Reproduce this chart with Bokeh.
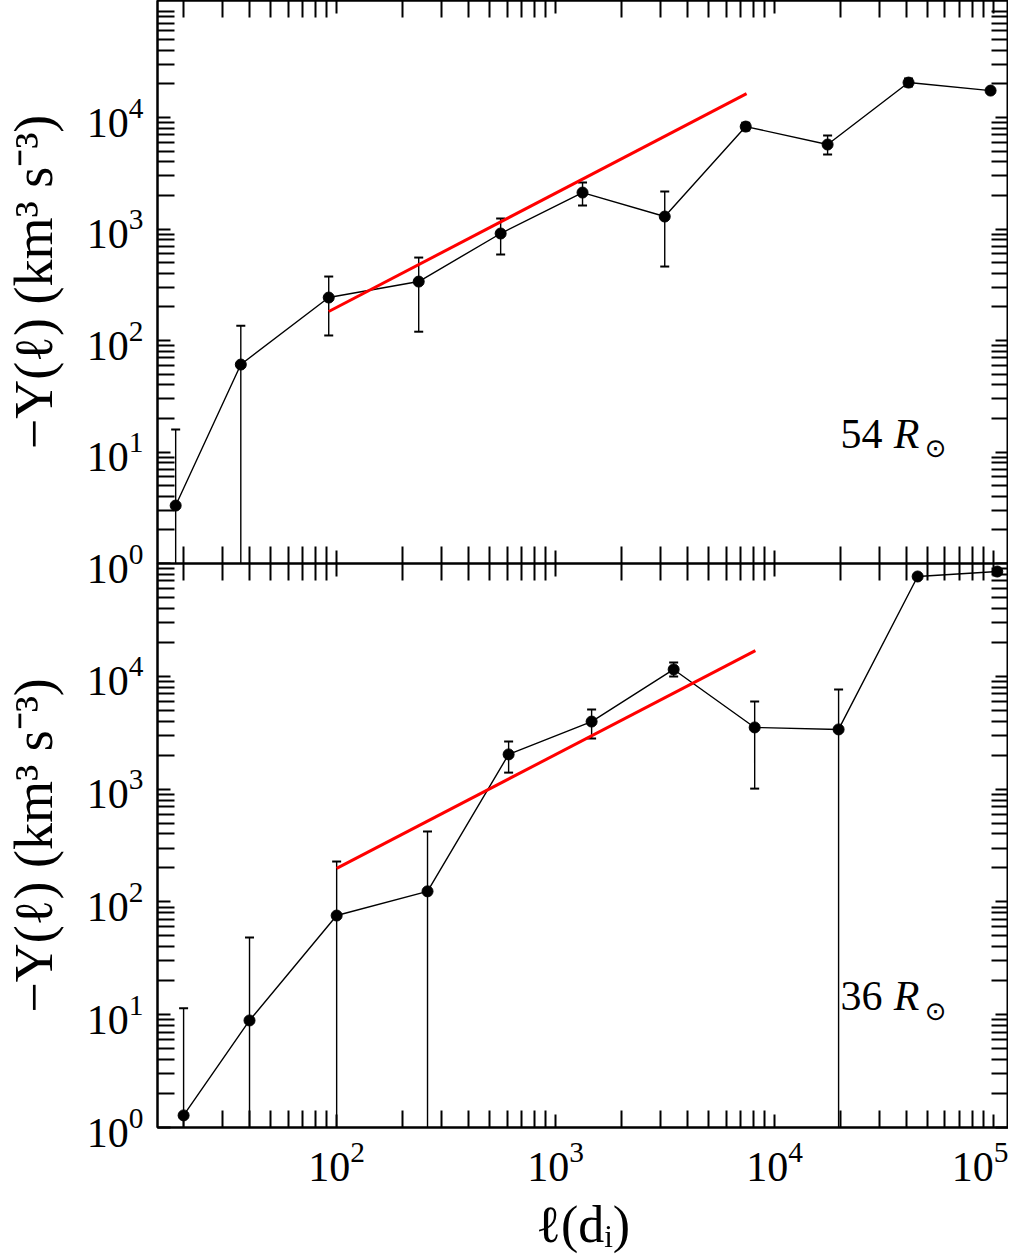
from bokeh.plotting import figure
from bokeh.models import FixedTicker, Label, Range1d, LogAxis
from bokeh.layouts import column
from bokeh.embed import file_html
from bokeh.resources import INLINE

# ---------------- data ----------------
# Panel 1: 54 R_sun
ell_54 = [18.4, 36.5, 92, 237, 561, 1327, 3150, 7380, 17460, 40900, 96900]
Y_54 = [3.31, 60.9, 243, 338, 912, 2125, 1295, 8300, 5730, 20600, 17460]
Y_54_hi = [15.9, 136, 375, 555, 1242, 2610, 2170, 9000, 6900, 22350, 18100]
Y_54_lo = [None, None, 111, 120, 591, 1625, 461, 7650, 4660, 19000, 16800]
fit_ell_54 = [92, 7450]
fit_Y_54 = [182, 16400]

# Panel 2: 36 R_sun
ell_36 = [20, 40, 100, 260, 610, 1460, 3460, 8110, 19600, 45000, 104000]
Y_36 = [1.28, 8.89, 75.7, 124, 2030, 3970, 11500, 3520, 3380, 76700, 84900]
Y_36_hi = [11.4, 48.3, 228, 421, 2640, 5080, 13250, 5980, 7640, 78500, 86500]
Y_36_lo = [None, None, None, None, 1400, 2810, 9980, 1010, None, 75000, 83300]
fit_ell_36 = [100, 8170]
fit_Y_36 = [198, 16900]

panel_labels = ["54", "36"]

x_major = [10, 100, 1000, 10000, 100000]
x_major_labels = ["10¹", "10²", "10³", "10⁴", "10⁵"]
y_major = [1, 10, 100, 1000, 10000]
y_major_labels = ["10⁰", "10¹", "10²", "10³", "10⁴"]

x_label = "ℓ(dᵢ)"
y_label = "−Y(ℓ) (km³ s⁻³)"

# ---------------- styling ----------------
FONT = "Liberation Serif"
X_RANGE = (15.2, 1.17e5)
minor = [m * 10 ** k for k in range(0, 6) for m in range(2, 10)]
FLOOR = 1e-3  # lower error bars crossing zero run off the bottom
OVERLAP = 32


def style_axis(ax, ticks, labels=None):
    ax.ticker = FixedTicker(ticks=ticks, minor_ticks=minor)
    ax.major_tick_in = 13
    ax.major_tick_out = 0
    ax.minor_tick_in = 17
    ax.minor_tick_out = 0
    ax.major_tick_line_width = 2
    ax.minor_tick_line_width = 2
    ax.major_tick_line_color = "black"
    ax.minor_tick_line_color = "black"
    ax.axis_line_width = 2
    ax.axis_line_color = "black"
    if labels:
        ax.major_label_overrides = {str(t): s for t, s in zip(ticks, labels)}
        ax.major_label_text_font = FONT
        ax.major_label_text_font_size = "42px"
        ax.major_label_text_color = "black"
    else:
        ax.major_label_text_font_size = "1px"
        ax.major_label_text_alpha = 0
        ax.major_label_standoff = 0


def make_panel(ell, Y, hi, lo, fit_ell, fit_Y, tag, y_end, frame_h,
               bottom_labels, min_bottom, **kw):
    p = figure(x_axis_type="log", y_axis_type="log",
               x_range=Range1d(*X_RANGE), y_range=Range1d(1, y_end),
               frame_width=851, frame_height=frame_h,
               output_backend="svg", toolbar_location=None,
               min_border_left=157, min_border_right=0,
               min_border_top=0, min_border_bottom=min_bottom,
               background_fill_color="white", border_fill_color=None, **kw)
    p.xgrid.visible = False
    p.ygrid.visible = False
    p.outline_line_color = "black"
    p.outline_line_width = 2

    # left y axis with labels
    yax = p.yaxis[0]
    style_axis(yax, y_major, y_major_labels)
    yax.major_label_standoff = 14
    yax.axis_label = y_label
    yax.axis_label_text_font = FONT
    yax.axis_label_text_font_size = "54px"
    yax.axis_label_text_font_style = "normal"
    yax.axis_label_text_color = "black"
    yax.axis_label_standoff = 20

    # bottom x axis
    xax = p.xaxis[0]
    if bottom_labels:
        style_axis(xax, x_major, x_major_labels)
        xax.major_label_standoff = 15
        xax.axis_label = x_label
        xax.axis_label_text_font = FONT
        xax.axis_label_text_font_size = "52px"
        xax.axis_label_text_font_style = "normal"
        xax.axis_label_text_color = "black"
        xax.axis_label_standoff = 12
    else:
        style_axis(xax, x_major)

    # mirrored ticks on top and right
    top_ax = LogAxis()
    style_axis(top_ax, x_major)
    p.add_layout(top_ax, "above")
    right_ax = LogAxis()
    style_axis(right_ax, y_major)
    p.add_layout(right_ax, "right")

    # error bars
    lo_draw = [v if v is not None else FLOOR for v in lo]
    p.segment(x0=ell, y0=lo_draw, x1=ell, y1=hi, line_color="black", line_width=1.4)
    p.scatter(x=ell, y=hi, marker="dash", size=9, line_color="black", line_width=2)
    lo_ell = [e for e, v in zip(ell, lo) if v is not None]
    lo_val = [v for v in lo if v is not None]
    p.scatter(x=lo_ell, y=lo_val, marker="dash", size=9, line_color="black", line_width=2)

    # data line and points
    p.line(ell, Y, line_color="black", line_width=1.4)
    p.scatter(ell, Y, size=11, color="black")

    # power-law guide
    p.line(fit_ell, fit_Y, line_color="#ff0000", line_width=3)

    # panel tag  "NN R_sun"
    p.add_layout(Label(x=2.0e4, y=14.5, text=tag, text_font=FONT,
                       text_font_size="42px", text_baseline="alphabetic",
                       text_color="black"))
    p.add_layout(Label(x=3.5e4, y=14.5, text="R", text_font=FONT,
                       text_font_size="42px", text_font_style="italic",
                       text_baseline="alphabetic", text_color="black"))
    p.add_layout(Label(x=4.85e4, y=10.8, text="⊙", text_font="DejaVu Sans",
                       text_font_size="26px", text_baseline="alphabetic",
                       text_color="black"))
    return p


top = make_panel(ell_54, Y_54, Y_54_hi, Y_54_lo, fit_ell_54, fit_Y_54,
                 panel_labels[0], 10 ** 5.05, 563, False, OVERLAP)
bottom = make_panel(ell_36, Y_36, Y_36_hi, Y_36_lo, fit_ell_36, fit_Y_36,
                    panel_labels[1], 1e5, 564, True, 122,
                    margin=(-OVERLAP, 0, 0, 0))

layout = column(top, bottom, spacing=0)
open("out.html", "w").write(file_html(layout, INLINE))
